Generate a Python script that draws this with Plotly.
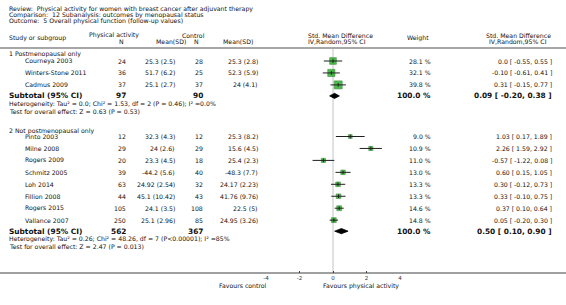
import plotly.graph_objects as go

W, H = 566, 305

# ---------------- data ----------------
review_title = "Physical activity for women with breast cancer after adjuvant therapy"
comparison_title = "12 Subanalysis: outcomes by menopausal status"
outcome_title = "5 Overall physical function (follow-up values)"

group_names = ["1 Postmenopausal only", "2 Not postmenopausal only"]

g1_study = ["Courneya 2003", "Winters-Stone 2011", "Cadmus 2009"]
g1_pa_n = [24, 36, 37]
g1_pa_msd = ["25.3 (2.5)", "51.7 (6.2)", "25.1 (2.7)"]
g1_c_n = [28, 25, 37]
g1_c_msd = ["25.3 (2.8)", "52.3 (5.9)", "24 (4.1)"]
g1_weight = [28.1, 32.1, 39.8]
g1_smd = [0.0, -0.10, 0.31]
g1_lo = [-0.55, -0.61, -0.15]
g1_hi = [0.55, 0.41, 0.77]
g1_smd_txt = ["0.0", "-0.10", "0.31"]
g1_lo_txt = ["-0.55", "-0.61", "-0.15"]
g1_hi_txt = ["0.55", "0.41", "0.77"]

g2_study = ["Pinto 2003", "Milne 2008", "Rogers 2009", "Schmitz 2005",
            "Loh 2014", "Fillion 2008", "Rogers 2015", "Vallance 2007"]
g2_pa_n = [12, 29, 20, 39, 63, 44, 105, 250]
g2_pa_msd = ["32.3 (4.3)", "24 (2.6)", "23.3 (4.5)", "-44.2 (5.6)",
             "24.92 (2.54)", "45.1 (10.42)", "24.1 (3.5)", "25.1 (2.96)"]
g2_c_n = [12, 29, 18, 40, 32, 43, 108, 85]
g2_c_msd = ["25.3 (8.2)", "15.6 (4.5)", "25.4 (2.3)", "-48.3 (7.7)",
            "24.17 (2.23)", "41.76 (9.76)", "22.5 (5)", "24.95 (3.26)"]
g2_weight = [9.0, 10.9, 11.0, 13.0, 13.3, 13.3, 14.6, 14.8]
g2_smd = [1.03, 2.26, -0.57, 0.60, 0.30, 0.33, 0.37, 0.05]
g2_lo = [0.17, 1.59, -1.22, 0.15, -0.12, -0.10, 0.10, -0.20]
g2_hi = [1.89, 2.92, 0.08, 1.05, 0.73, 0.75, 0.64, 0.30]
g2_smd_txt = ["1.03", "2.26", "-0.57", "0.60", "0.30", "0.33", "0.37", "0.05"]
g2_lo_txt = ["0.17", "1.59", "-1.22", "0.15", "-0.12", "-0.10", "0.10", "-0.20"]
g2_hi_txt = ["1.89", "2.92", "0.08", "1.05", "0.73", "0.75", "0.64", "0.30"]

sub_pa_n = [97, 562]
sub_c_n = [90, 367]
sub_weight = ["100.0 %", "100.0 %"]
sub_smd = [0.09, 0.50]
sub_lo = [-0.20, 0.10]
sub_hi = [0.38, 0.90]
sub_txt = ["0.09 [ -0.20, 0.38 ]", "0.50 [ 0.10, 0.90 ]"]
heterogeneity = ["Heterogeneity: Tau\u00b2 = 0.0; Chi\u00b2 = 1.53, df = 2 (P = 0.46); I\u00b2 =0.0%",
                 "Heterogeneity: Tau\u00b2 = 0.26; Chi\u00b2 = 48.26, df = 7 (P<0.00001); I\u00b2 =85%"]
overall_test = ["Test for overall effect: Z = 0.63 (P = 0.53)",
                "Test for overall effect: Z = 2.47 (P = 0.013)"]

axis_ticks = [-4, -2, 0, 2, 4]
axis_ticktext = ["-4", "-2", "0", "2", "4"]
favours_left = "Favours control"
favours_right = "Favours physical activity"

groups = [
    dict(study=g1_study, pa_n=g1_pa_n, pa_msd=g1_pa_msd, c_n=g1_c_n, c_msd=g1_c_msd,
         w=g1_weight, smd=g1_smd, lo=g1_lo, hi=g1_hi,
         smd_t=g1_smd_txt, lo_t=g1_lo_txt, hi_t=g1_hi_txt),
    dict(study=g2_study, pa_n=g2_pa_n, pa_msd=g2_pa_msd, c_n=g2_c_n, c_msd=g2_c_msd,
         w=g2_weight, smd=g2_smd, lo=g2_lo, hi=g2_hi,
         smd_t=g2_smd_txt, lo_t=g2_lo_txt, hi_t=g2_hi_txt),
]

# ---------------- layout (pixel geometry) ----------------
FONT = "DejaVu Sans"
FS = 6.2
FSB = 7.4
TXT = "#111111"
X_NAME0 = 8
X_NAME = 24
X_PA_N = 127
X_PA_M = 176
X_C_N = 204
X_C_M = 259
X_W = 432
X_EFF = 553
AX_Y = 273
ZERO_TOP = 49
group_head_y = [54, 130.5]
group_first_y = [61, 136.5]
PITCH = 11.95

ann = []


def txt(x, y, s, anchor="left", size=FS, bold=False, color=TXT):
    ann.append(dict(x=x / W, xref="paper", y=y, yref="y", text=("<b>%s</b>" % s) if bold else s,
                    showarrow=False, xanchor=anchor, yanchor="middle", borderpad=0,
                    font=dict(family=FONT, size=size, color=color)))


# titles
txt(X_NAME0, 8.5, "Review:\u00a0 " + review_title)
txt(X_NAME0, 14.5, "Comparison:\u00a0 " + comparison_title)
txt(X_NAME0, 20.5, "Outcome:\u00a0 " + outcome_title)

# headers
txt(X_NAME0, 37.5, "Study or subgroup")
txt(88, 35, "Physical activity")
txt(121, 41, "N", "center")
txt(155, 41, "Mean(SD)")
txt(181, 35, "Control")
txt(196, 41, "N", "center")
txt(222, 41, "Mean(SD)")
txt(307, 35.5, "Std. Mean Difference")
txt(307, 41.5, "IV,Random,95% CI")
txt(406, 37.5, "Weight")
txt(485, 35.5, "Std. Mean Difference")
txt(488, 41.5, "IV,Random,95% CI")

fig = go.Figure()

sq_x, sq_y, sq_s = [], [], []
ci_x, ci_y = [], []
dia_x, dia_y = [], []

for gi, g in enumerate(groups):
    txt(X_NAME0, group_head_y[gi], group_names[gi])
    ys = [group_first_y[gi] + i * PITCH for i in range(len(g["study"]))]
    for i, y in enumerate(ys):
        txt(X_NAME, y, g["study"][i])
        txt(X_PA_N, y, str(g["pa_n"][i]), "right")
        txt(X_PA_M, y, g["pa_msd"][i], "right")
        txt(X_C_N, y, str(g["c_n"][i]), "right")
        txt(X_C_M, y, g["c_msd"][i], "right")
        txt(X_W, y, "%.1f %%" % g["w"][i], "right")
        txt(X_EFF, y, "%s [ %s, %s ]" % (g["smd_t"][i], g["lo_t"][i], g["hi_t"][i]), "right")
        sq_x.append(g["smd"][i]); sq_y.append(y); sq_s.append(1.27 * g["w"][i] ** 0.5)
        ci_x += [g["lo"][i], g["hi"][i], None]
        ci_y += [y, y, None]
    ys_sub = ys[-1] + 11
    txt(X_NAME0, ys_sub, "Subtotal (95% CI)", size=FSB, bold=True)
    txt(X_PA_N, ys_sub, str(sub_pa_n[gi]), "right", size=FSB, bold=True)
    txt(X_C_N, ys_sub, str(sub_c_n[gi]), "right", size=FSB, bold=True)
    txt(X_W, ys_sub, sub_weight[gi], "right", size=FSB, bold=True)
    txt(X_EFF, ys_sub, sub_txt[gi], "right", size=FSB, bold=True)
    txt(X_NAME0, ys_sub + 8, heterogeneity[gi])
    txt(X_NAME0, ys_sub + 15.2, overall_test[gi])
    dia_x += [sub_lo[gi], sub_smd[gi], sub_hi[gi], sub_smd[gi], sub_lo[gi], None]
    dia_y += [ys_sub, ys_sub - 2.6, ys_sub, ys_sub + 2.6, ys_sub, None]

# favours labels
txt(268, AX_Y + 12.5, favours_left, "right")
txt(322, AX_Y + 12.5, favours_right, "left")

# zero line
fig.add_shape(type="line", xref="x", yref="y", x0=0, x1=0, y0=ZERO_TOP, y1=AX_Y,
              line=dict(color="#c4c4c4", width=1), layer="below")
# header rule and axis line (full width)
fig.add_shape(type="line", xref="paper", yref="y", x0=0, x1=1, y0=48, y1=48,
              line=dict(color="#8a8a8a", width=1.4))
fig.add_shape(type="line", xref="paper", yref="y", x0=0, x1=1, y0=AX_Y, y1=AX_Y,
              line=dict(color="#404040", width=1))

fig.add_trace(go.Scatter(x=sq_x, y=sq_y, mode="markers",
                         marker=dict(symbol="square", size=sq_s, color="#00a000",
                                     line=dict(color="#006000", width=0.6)),
                         hoverinfo="skip", showlegend=False))
fig.add_trace(go.Scatter(x=ci_x, y=ci_y, mode="lines",
                         line=dict(color="#202020", width=1),
                         hoverinfo="skip", showlegend=False))
fig.add_trace(go.Scatter(x=sq_x, y=sq_y, mode="markers",
                         marker=dict(symbol="line-ns", size=2.5,
                                     line=dict(color="#202020", width=1)),
                         hoverinfo="skip", showlegend=False))
fig.add_trace(go.Scatter(x=dia_x, y=dia_y, mode="lines", fill="toself",
                         fillcolor="#000000", line=dict(color="#000000", width=0.8),
                         hoverinfo="skip", showlegend=False))

fig.update_layout(
    width=W, height=H,
    margin=dict(l=0, r=0, t=0, b=0, pad=0, autoexpand=False),
    paper_bgcolor="white", plot_bgcolor="white",
    annotations=ann,
    xaxis=dict(range=[-4, 4], domain=[266 / W, 400 / W], anchor="free",
               position=1 - AX_Y / H, showgrid=False, zeroline=False, showline=False,
               tickmode="array", tickvals=axis_ticks, ticktext=axis_ticktext,
               ticks="inside", ticklen=2, tickwidth=1, tickcolor="#404040",
               tickfont=dict(family=FONT, size=5.5, color="#333333"), fixedrange=True),
    yaxis=dict(range=[H, 0], domain=[0, 1], visible=False, fixedrange=True),
)

fig.write_html("out.html", config={"displayModeBar": False},
               post_script="document.body.style.margin='0';document.body.style.overflow='hidden';")
